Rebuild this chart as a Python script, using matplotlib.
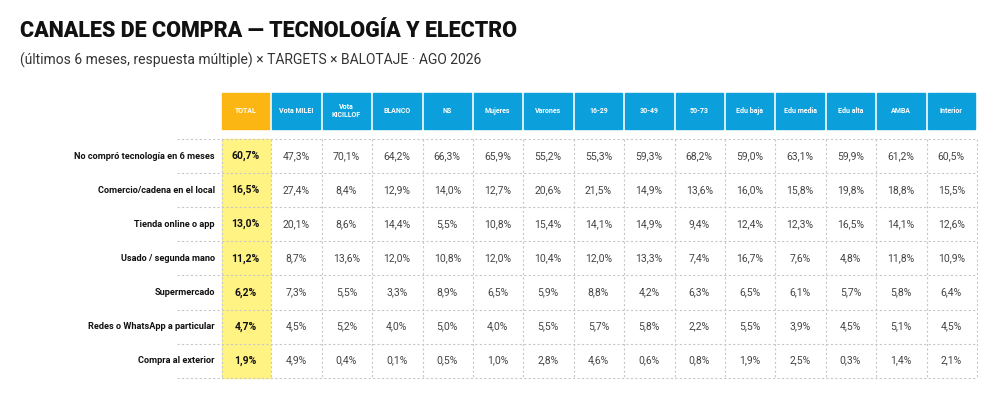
import matplotlib
matplotlib.use("Agg")
import matplotlib.pyplot as plt
from matplotlib.patches import Rectangle

columns = ["TOTAL", "Vota MILEI", "Vota\nKICILLOF", "BLANCO", "NS", "Mujeres", "Varones",
           "16-29", "30-49", "50-73", "Edu baja", "Edu media", "Edu alta", "AMBA", "Interior"]
rows = ["No compró tecnología en 6 meses", "Comercio/cadena en el local", "Tienda online o app",
        "Usado / segunda mano", "Supermercado", "Redes o WhatsApp a particular", "Compra al exterior"]
values = [
    [60.7, 47.3, 70.1, 64.2, 66.3, 65.9, 55.2, 55.3, 59.3, 68.2, 59.0, 63.1, 59.9, 61.2, 60.5],
    [16.5, 27.4, 8.4, 12.9, 14.0, 12.7, 20.6, 21.5, 14.9, 13.6, 16.0, 15.8, 19.8, 18.8, 15.5],
    [13.0, 20.1, 8.6, 14.4, 5.5, 10.8, 15.4, 14.1, 14.9, 9.4, 12.4, 12.3, 16.5, 14.1, 12.6],
    [11.2, 8.7, 13.6, 12.0, 10.8, 12.0, 10.4, 12.0, 13.3, 7.4, 16.7, 7.6, 4.8, 11.8, 10.9],
    [6.2, 7.3, 5.5, 3.3, 8.9, 6.5, 5.9, 8.8, 4.2, 6.3, 6.5, 6.1, 5.7, 5.8, 6.4],
    [4.7, 4.5, 5.2, 4.0, 5.0, 4.0, 5.5, 5.7, 5.8, 2.2, 5.5, 3.9, 4.5, 5.1, 4.5],
    [1.9, 4.9, 0.4, 0.1, 0.5, 1.0, 2.8, 4.6, 0.6, 0.8, 1.9, 2.5, 0.3, 1.4, 2.1],
]

plt.rcParams["font.family"] = ["Roboto", "DejaVu Sans"]
fig = plt.figure(figsize=(10, 4.15), dpi=100)
ax = fig.add_axes([0, 0, 1, 1])
ax.set_xlim(0, 1000); ax.set_ylim(415, 0); ax.axis("off")

fig.text(0.02, 1 - 31/415, "CANALES DE COMPRA — TECNOLOGÍA Y ELECTRO", fontsize=15.5,
         fontweight="heavy", color="#111111", va="center")
fig.text(0.02, 1 - 60/415, "(últimos 6 meses, respuesta múltiple) × TARGETS × BALOTAJE · AGO 2026",
         fontsize=10, color="#333333", va="center")

x0, cw, gap = 222, 50.4, 3
hy0, hy1 = 93, 129
ty0, rh = 139, 34.1
n = len(rows)
tx0 = x0 - 45
tx1 = x0 + cw * len(columns) - gap + 2

ax.add_patch(Rectangle((x0, ty0), cw - gap + 1, rh * n, color="#FFF383", zorder=0))

for j, c in enumerate(columns):
    xl = x0 + j * cw
    ax.add_patch(Rectangle((xl, hy0), cw - gap, hy1 - hy0,
                           color="#FBB614" if j == 0 else "#0BA0DC", zorder=1))
    ax.text(xl + (cw - gap) / 2, (hy0 + hy1) / 2, c, ha="center", va="center",
            fontsize=5, color="white", fontweight="bold", linespacing=1.0)

for i in range(n + 1):
    y = ty0 + i * rh
    ax.plot([tx0, tx1], [y, y], ls=(0, (2, 2)), color="#C8C8C8", lw=0.8)
for j in range(len(columns) + 1):
    xl = x0 + j * cw - (1 if j else 0)
    ax.plot([xl, xl], [ty0, ty0 + rh * n], ls=(0, (2, 2)), color="#C8C8C8", lw=0.8)

for i, r in enumerate(rows):
    yc = ty0 + (i + 0.5) * rh
    ax.text(x0 - 7, yc, r, ha="right", va="center", fontsize=6.6, fontweight="bold", color="#111111")
    for j, v in enumerate(values[i]):
        s = f"{v:.1f}%".replace(".", ",")
        ax.text(x0 + j * cw + (cw - gap) / 2, yc, s, ha="center", va="center",
                fontsize=7.5, color="#111111" if j == 0 else "#444444",
                fontweight="bold" if j == 0 else "normal")

fig.savefig("out.png", dpi=100)
